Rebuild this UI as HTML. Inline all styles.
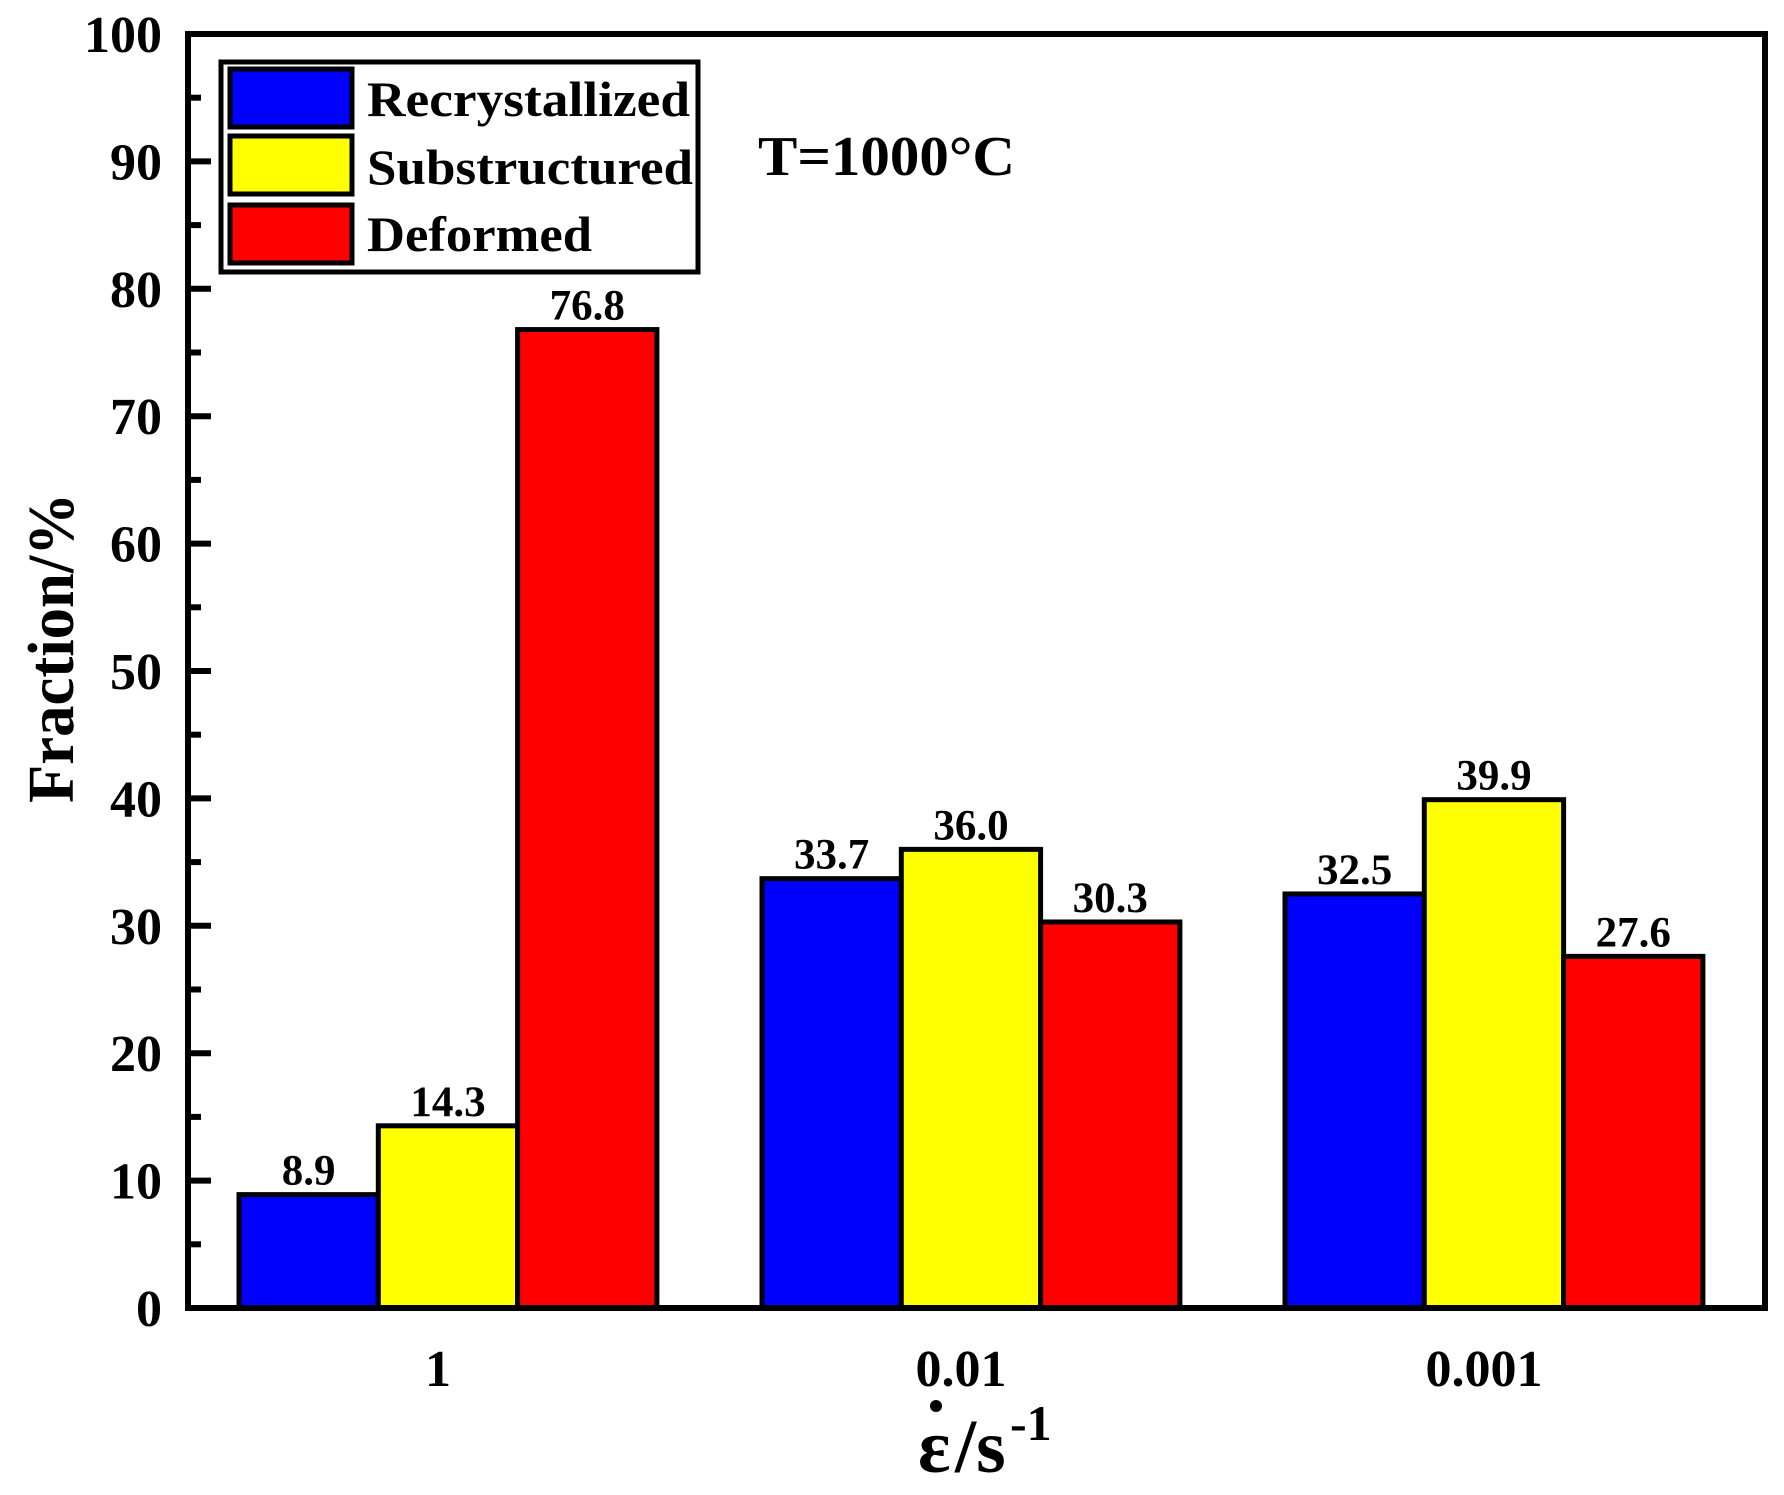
<!DOCTYPE html>
<html><head><meta charset="utf-8"><style>
html,body{margin:0;padding:0;background:#fff;}
svg{display:block;}
text{font-family:"Liberation Serif",serif;font-weight:bold;fill:#000;}
</style></head><body>
<svg id="chart" width="1784" height="1495" viewBox="0 0 1784 1495">
<g id="bars"></g>
<g id="axes"></g>
<g id="legend">
  <rect x="221" y="62" width="477" height="210" fill="#fff" stroke="#000" stroke-width="5"/>
  <rect x="230" y="69" width="122" height="58" fill="#0000ff" stroke="#000" stroke-width="5"/>
  <text x="367" y="116" font-size="50" textLength="323" lengthAdjust="spacingAndGlyphs">Recrystallized</text>
  <rect x="230" y="136" width="122" height="58" fill="#ffff00" stroke="#000" stroke-width="5"/>
  <text x="367" y="184" font-size="50" textLength="326" lengthAdjust="spacingAndGlyphs">Substructured</text>
  <rect x="230" y="205" width="122" height="58" fill="#ff0000" stroke="#000" stroke-width="5"/>
  <text x="367" y="251" font-size="50" textLength="225" lengthAdjust="spacingAndGlyphs">Deformed</text>
</g>
<text x="758" y="175" font-size="56" textLength="257" lengthAdjust="spacingAndGlyphs">T=1000°C</text>
<text transform="translate(73,648) rotate(-90)" text-anchor="middle" font-size="66" textLength="310" lengthAdjust="spacingAndGlyphs">Fraction/%</text>
<g>
  <text x="918" y="1472" font-size="76">ε</text>
  <circle cx="936" cy="1406" r="6" fill="#000"/>
  <text x="955" y="1472" font-size="76">/s</text>
  <text x="1010" y="1440" font-size="50">-1</text>
</g>
</svg>
<script>
const categories = ["1", "0.01", "0.001"];
const seriesNames = ["Recrystallized", "Substructured", "Deformed"];
const recrystallized = [8.9, 33.7, 32.5];
const substructured = [14.3, 36.0, 39.9];
const deformed = [76.8, 30.3, 27.6];
const yTicks = [0, 10, 20, 30, 40, 50, 60, 70, 80, 90, 100];

const NS = "http://www.w3.org/2000/svg";
const L = 188, R = 1765, T = 34, B = 1308;
const yMin = 0, yMax = 100;
function yScale(v){ return B - (v - yMin) / (yMax - yMin) * (B - T); }
const groupStart = 239, groupStep = 523, barW = 139.3;
function xBar(g, s){ return groupStart + g * groupStep + s * barW; }
function xCenter(g){ return groupStart + g * groupStep + 1.5 * barW; }
function mk(tag, attrs, parent){ const e = document.createElementNS(NS, tag); for (const k in attrs) e.setAttribute(k, attrs[k]); parent.appendChild(e); return e; }

const barsG = document.getElementById('bars');
const axesG = document.getElementById('axes');
const series = [recrystallized, substructured, deformed];
const colors = ["#0000ff", "#ffff00", "#ff0000"];
const keys = ["recrystallized", "substructured", "deformed"];
series.forEach((vals, s) => {
  vals.forEach((v, g) => {
    const x = xBar(g, s), y = yScale(v);
    const r = mk('rect', {x: x, y: y, width: barW, height: B - y, fill: colors[s], stroke: '#000', 'stroke-width': 5}, barsG);
    
    
    const t = mk('text', {x: x + barW / 2, y: y - 10, 'text-anchor': 'middle', 'font-size': 43}, barsG);
    t.textContent = v.toFixed(1);
    
    
  });
});

const frame = mk('rect', {x: L, y: T, width: R - L, height: B - T, fill: 'none', stroke: '#000', 'stroke-width': 6}, axesG);



yTicks.forEach((v, i) => {
  const y = yScale(v);
  const tk = mk('line', {x1: L, x2: L + 23, y1: y, y2: y, stroke: '#000', 'stroke-width': 6}, axesG);
  
  
  const lb = mk('text', {x: 162, y: y + 18, 'text-anchor': 'end', 'font-size': 52}, axesG);
  lb.textContent = v;
  
  
  if (i < yTicks.length - 1) {
    const ym = yScale((v + yTicks[i + 1]) / 2);
    const mt = mk('line', {x1: L, x2: L + 13, y1: ym, y2: ym, stroke: '#000', 'stroke-width': 6}, axesG);
    
    
  }
});

categories.forEach((c, g) => {
  const t = mk('text', {x: xCenter(g) - 10, y: 1386, 'text-anchor': 'middle', 'font-size': 52}, axesG);
  t.textContent = c;
  
  
});
</script>
</body></html>
